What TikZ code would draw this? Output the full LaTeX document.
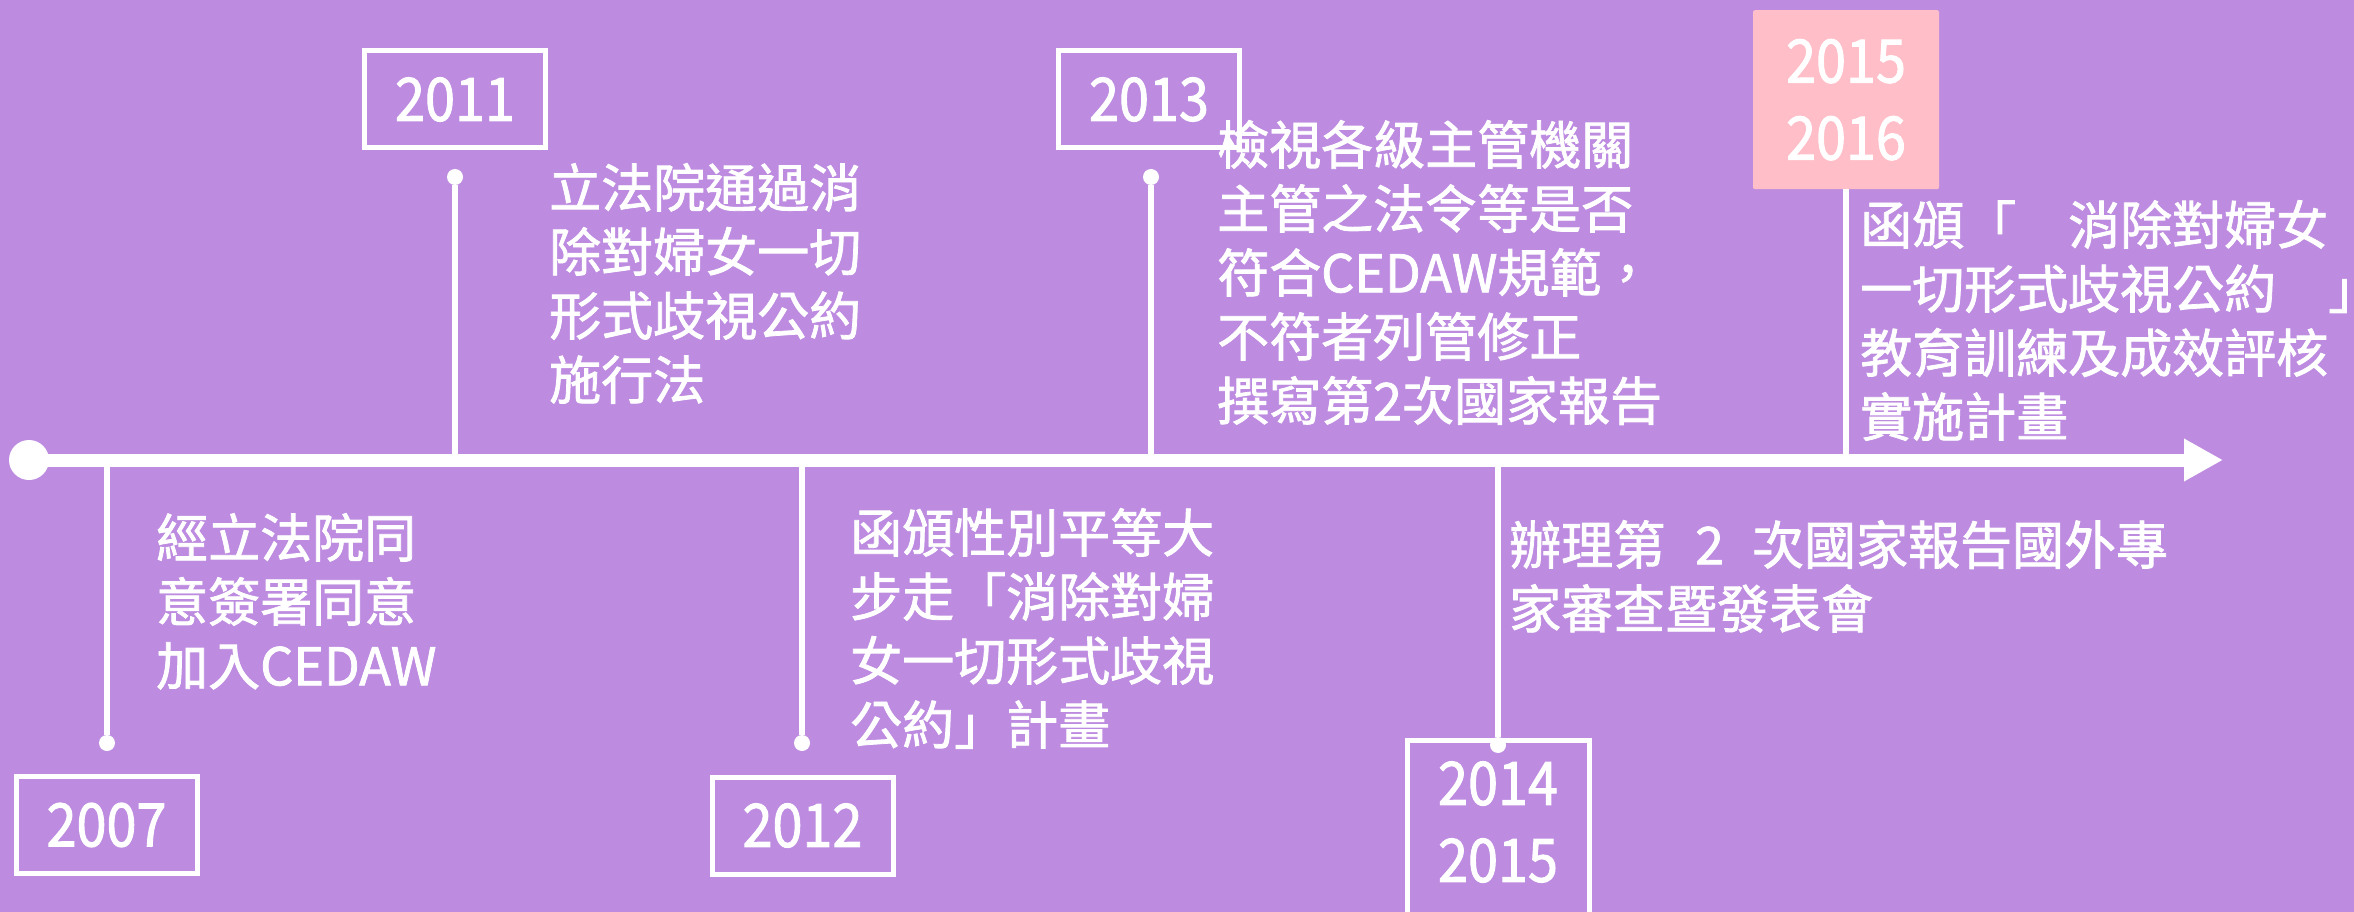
\documentclass[tikz,border=0pt]{standalone}
\usepackage{fontspec}
\setmainfont{Noto Sans CJK TC}[FakeBold=1.5]
\newfontfamily\yearfam{Noto Sans CJK TC}[FakeStretch=0.9,FakeBold=1.5]
\usetikzlibrary{arrows.meta}
\definecolor{bgpurple}{RGB}{189,139,224}
\definecolor{pinkfill}{RGB}{255,190,200}
\newcommand\descfont{\fontsize{52pt}{64pt}\selectfont}
\newcommand\yearfont{\yearfam\fontsize{60pt}{77pt}\selectfont}
\tikzset{
  yearbox/.style={draw=white, line width=5pt, minimum width=181pt, minimum height=97pt, inner sep=0pt, text=white, font=\yearfont},
  pinkbox/.style={fill=pinkfill, rounded corners=2pt, minimum width=186pt, minimum height=179pt, inner sep=0pt, text=white, font=\yearfont, align=center},
  yeartext/.style={text=white, font=\yearfont, align=center, inner sep=0pt},
  ticklink/.style={draw=white, line width=6pt},
  tickdot/.style={circle, fill=white, minimum size=16pt, inner sep=0pt},
  startdot/.style={circle, fill=white, minimum size=40pt, inner sep=0pt},
  timeline/.style={draw=white, line width=13pt, -{Triangle[length=39pt,width=40pt]}},
  desc/.style={text=white, align=left, anchor=north west, inner sep=0pt, font=\descfont},
}
\begin{document}
\begin{tikzpicture}[x=1pt,y=-1pt]
\useasboundingbox (0,0) rectangle (2354,912);
\fill[bgpurple] (0,0) rectangle (2354,912);
\clip (0,0) rectangle (2354,912);
% timeline
\node[startdot] (start) at (29,460) {};
\coordinate (end) at (2223,460);
% ticks dots
\node[tickdot] (d2007) at (107,743) {};
\node[tickdot] (d2011) at (455,177) {};
\node[tickdot] (d2012) at (802,743) {};
\node[tickdot] (d2013) at (1151,177) {};
\node[tickdot] (d2014) at (1498,745) {};
% year boxes
\node[yearbox] (y2007) at (106.5,825) {2007};
\node[yearbox] (y2011) at (455,99.5) {2011};
\node[yearbox] (y2012) at (802.5,825.5) {2012};
\node[yearbox] (y2013) at (1149,99.5) {2013};
\node[yearbox, minimum width=182pt, minimum height=200pt, anchor=north] (y2014) at (1498,738) {};
\node[yeartext] (t2014) at (1498,822) {2014\\2015};
\node[pinkbox, anchor=north] (y2015) at (1846,10) {2015\\2016};
% connectors
\draw[ticklink] (d2007) -- (d2007 |- start);
\draw[ticklink] (d2011) -- (d2011 |- start);
\draw[ticklink] (d2012) -- (d2012 |- start);
\draw[ticklink] (d2013) -- (d2013 |- start);
\draw[ticklink] (d2014) -- (d2014 |- start);
\draw[ticklink] (y2015.south) -- (y2015.south |- start);
\draw[timeline] (start.center) -- (end);
% descriptions
\node[desc] (e2007) at (156,513) {經立法院同\\意簽署同意\\加入CEDAW};
\node[desc] (e2011) at (549,163) {立法院通過消\\除對婦女一切\\形式歧視公約\\施行法};
\node[desc] (e2012) at (850,508) {函頒性別平等大\\步走「消除對婦\\女一切形式歧視\\公約」計畫};
\node[desc] (e2013) at (1217,120) {檢視各級主管機關\\主管之法令等是否\\符合CEDAW規範，\\不符者列管修正\\撰寫第2次國家報告};
\node[desc] (e2014) at (1509,520) {辦理第\hspace{30pt}2\hspace{28pt}次國家報告國外專\\家審查暨發表會};
\node[desc] (e2015) at (1860,200) {函頒「　消除對婦女\\一切形式歧視公約　」\\教育訓練及成效評核\\實施計畫};
\end{tikzpicture}
\end{document}
